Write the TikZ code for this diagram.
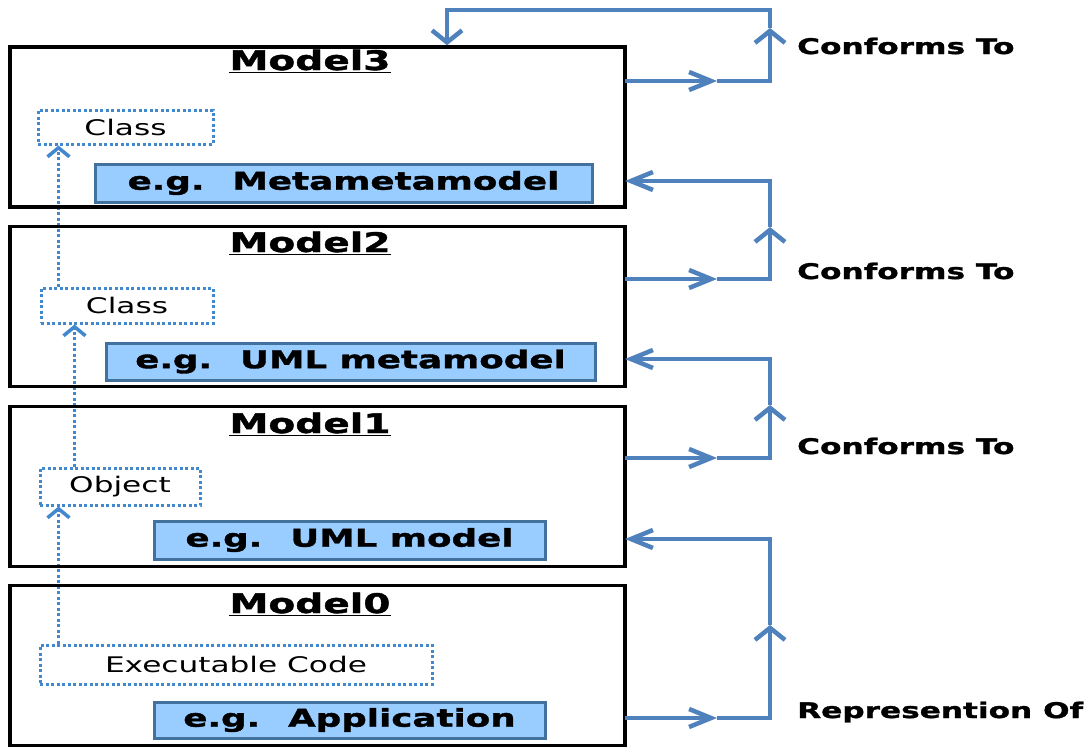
\documentclass[tikz,border=0pt]{standalone}
\usepackage{fontspec}
\setmainfont{DejaVu Sans}[FakeStretch=1.45,BoldFeatures={FakeBold=1.5}]
\usetikzlibrary{positioning, arrows.meta, calc}
\definecolor{flowblue}{RGB}{79,129,189}
\definecolor{dotblue}{RGB}{66,136,206}
\definecolor{egfill}{RGB}{153,204,255}
\definecolor{egline}{RGB}{65,113,156}

\begin{document}
\begin{tikzpicture}[x=1pt,y=-1pt,
modelbox/.style={draw,line width=3.5pt,minimum width=615pt,minimum height=160pt,inner sep=0pt},
modeltitle/.style={font=\fontsize{27}{30}\selectfont\bfseries,anchor=base,inner sep=0pt},
dotbox/.style={draw=dotblue,line width=3pt,dash pattern=on 3pt off 2.5pt,font=\fontsize{21.5}{25}\selectfont,inner sep=0pt},
egbox/.style={draw=egline,fill=egfill,line width=3pt,font=\fontsize{24.6}{28}\selectfont\bfseries,inner sep=0pt},
sidelabel/.style={font=\fontsize{21.5}{25}\selectfont\bfseries,anchor=base west,inner sep=0pt},
flow/.style={draw=flowblue,line width=4.5pt},
midtip/.style={-{Straight Barb[length=22pt,width=18pt]}},
uptip/.style={-{Straight Barb[length=12pt,width=30pt]}},
dotflow/.style={draw=dotblue,line width=3.5pt,dash pattern=on 3pt off 2.5pt,-{Straight Barb[length=9pt,width=22pt]}}]
\useasboundingbox (0,0) rectangle (1092,747);

\node[dotbox,minimum width=175pt,minimum height=34pt] (cls3) at (125.5,127) {Class};
\node[dotbox,minimum width=172pt,minimum height=35pt] (cls2) at (127,305.5) {Class};
\node[dotbox,minimum width=160pt,minimum height=37pt] (obj) at (120,486.5) {Object};
\node[dotbox,minimum width=392pt,minimum height=39pt] (exec) at (236,664.5) {Executable Code};

\node[egbox,minimum width=497pt,minimum height=38pt] (meta3) at (343.5,183) {e.g.\hspace{28pt}Metametamodel};
\node[egbox,minimum width=489pt,minimum height=37pt] (meta2) at (350.5,361.5) {e.g.\hspace{28pt}UML metamodel};
\node[egbox,minimum width=391pt,minimum height=38pt] (meta1) at (349.5,540) {e.g.\hspace{28pt}UML model};
\node[egbox,minimum width=391pt,minimum height=36pt] (app0) at (349.5,720) {e.g.\hspace{28pt}Application};

\draw[dotflow] ($(exec.north west)+(20,0)$) -- ($(obj.south west)+(20,0)$);
\draw[dotflow] ($(obj.north west)+(36,0)$) -- ($(cls2.south west)+(35,0)$);
\draw[dotflow] ($(cls2.north west)+(19,0)$) -- ($(cls3.south west)+(22,0)$);

\node[modelbox] (M3) at (317.5,127) {};
\node[modelbox] (M2) at (317.5,306.5) {};
\node[modelbox] (M1) at (317.5,486.5) {};
\node[modelbox] (M0) at (317.5,665.5) {};
\node[modeltitle] (t3) at (310,70) {\underline{Model3}};
\node[modeltitle] (t2) at (310,252) {\underline{Model2}};
\node[modeltitle] (t1) at (310,433) {\underline{Model1}};
\node[modeltitle] (t0) at (310,613) {\underline{Model0}};

\coordinate (o3) at (625,81);
\coordinate (a3) at (717,81);
\coordinate (u3) at (770,28);
\coordinate (back3) at (447,10);
\draw[flow,midtip] (o3) -- (a3);
\draw[flow,uptip] (a3) -| (u3);
\draw[flow,uptip] (u3) |- (back3) -- (M3.north -| back3);

\coordinate (o2) at (625,279);
\coordinate (a2) at (717,279);
\coordinate (u2) at (770,227);
\coordinate (i3) at (625,181);
\draw[flow,midtip] (o2) -- (a2);
\draw[flow,uptip] (a2) -| (u2);
\draw[flow,midtip] (u2) |- (i3);

\coordinate (o1) at (625,458);
\coordinate (a1) at (717,458);
\coordinate (u1) at (770,405);
\coordinate (i2) at (625,359);
\draw[flow,midtip] (o1) -- (a1);
\draw[flow,uptip] (a1) -| (u1);
\draw[flow,midtip] (u1) |- (i2);

\coordinate (o0) at (625,718);
\coordinate (a0) at (717,718);
\coordinate (u0) at (770,625);
\coordinate (i1) at (625,539);
\draw[flow,midtip] (o0) -- (a0);
\draw[flow,uptip] (a0) -| (u0);
\draw[flow,midtip] (u0) |- (i1);

\node[sidelabel] (conf3) at (797,54) {Conforms To};
\node[sidelabel] (conf2) at (797,279) {Conforms To};
\node[sidelabel] (conf1) at (797,454) {Conforms To};
\node[sidelabel] (rep0) at (797,718) {Represention Of};
\end{tikzpicture}
\end{document}
